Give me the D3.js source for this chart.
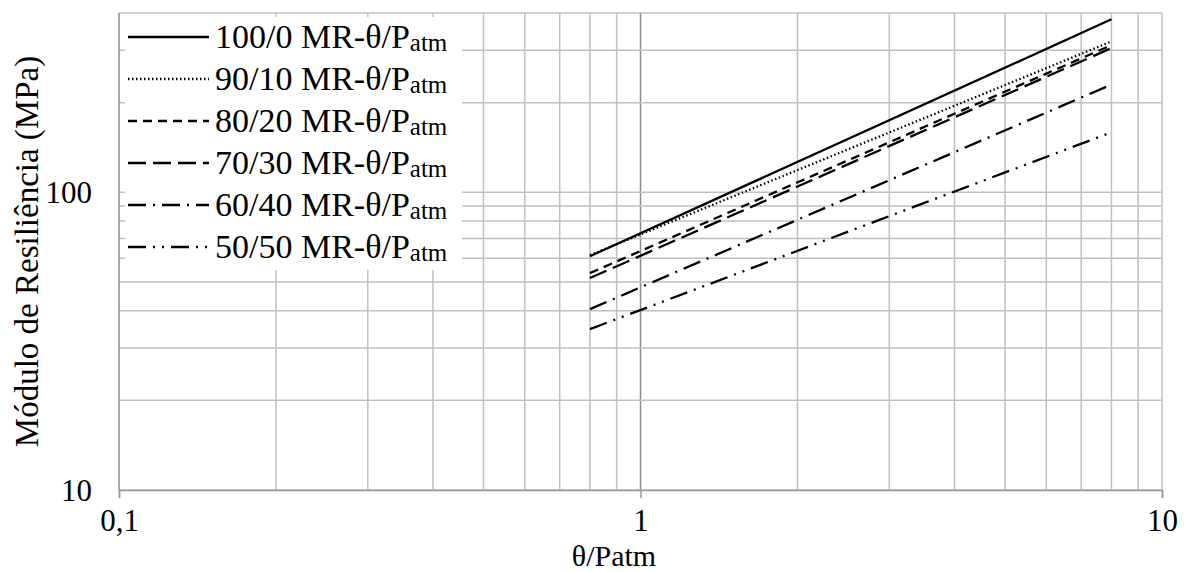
<!DOCTYPE html>
<html>
<head>
<meta charset="utf-8">
<script src="https://cdn.jsdelivr.net/npm/d3@7"></script>
<style>
  body { margin: 0; background: #fff; }
  text { font-family: "Liberation Serif", "Times New Roman", Times, serif; fill: #000; }
</style>
</head>
<body>
<div id="chart"></div>
<script>
// series: MR fitted vs theta/Patm, read at both ends of the fitted range
const seriesNames = ["100/0", "90/10", "80/20", "70/30", "60/40", "50/50"];
const thetaValues = [0.8, 8];
const mr100_0 = [61, 381];
const mr90_10 = [61.5, 321];
const mr80_20 = [53.5, 312];
const mr70_30 = [51.5, 305];
const mr60_40 = [40.5, 230];
const mr50_50 = [34.7, 159];

const xTickValues = [0.1, 1, 10];
const xTickLabels = ["0,1", "1", "10"];
const yTickValues = [10, 100];
const yTickLabels = ["10", "100"];

const seriesValues = [mr100_0, mr90_10, mr80_20, mr70_30, mr60_40, mr50_50];
const dashes = ["none", "1.5,2.5", "9,6", "18,7", "18,7,2,7", "18,7,2,7,2,7"];

let svg = d3.select("#chart").append("svg")
    .attr("width", 1189)
    .attr("height", 572),
    width = +svg.attr("width"),
    height = +svg.attr("height");

let margin = { top: 13, right: 27, bottom: 82, left: 119 };

let x = d3.scaleLog()
    .domain([0.1, 10])
    .range([margin.left, width - margin.right]);

let y = d3.scaleLog()
    .domain([10, 400])
    .range([height - margin.bottom, margin.top]);

// gridlines
let grid = svg.append("g");
grid.selectAll(".vg")
    .data(x.ticks())
    .enter().append("line")
    .attr("x1", d => x(d)).attr("x2", d => x(d))
    .attr("y1", margin.top).attr("y2", height - margin.bottom)
    .attr("stroke", d => d === 1 ? "#8a8a8a" : "#c0c0c0")
    .attr("stroke-width", 1.5);

grid.selectAll(".hg")
    .data(y.ticks())
    .enter().append("line")
    .attr("x1", margin.left).attr("x2", width - margin.right)
    .attr("y1", d => y(d)).attr("y2", d => y(d))
    .attr("stroke", "#c0c0c0")
    .attr("stroke-width", 1.5);

// legend background sits on top of the grid
let legend = svg.append("g");
legend.append("rect")
    .attr("x", 125).attr("y", 17)
    .attr("width", 337).attr("height", 253)
    .attr("fill", "#fff");

// series lines
let line = d3.line()
    .x((d, i) => x(thetaValues[i]))
    .y(d => y(d));

svg.append("g").selectAll("path")
    .data(seriesValues)
    .enter().append("path")
    .attr("d", d => line(d))
    .attr("fill", "none")
    .attr("stroke", "#000")
    .attr("stroke-width", 2.3)
    .attr("stroke-dasharray", (d, i) => dashes[i]);

// axes
let xAxis = d3.axisBottom(x)
    .tickValues(xTickValues)
    .tickSize(8)
    .tickFormat((d, i) => xTickLabels[i]);

let gX = svg.append("g")
    .attr("transform", "translate(0," + (height - margin.bottom) + ")")
    .attr("font-family", null)
    .call(xAxis);
gX.select(".domain").attr("stroke", "#999").attr("stroke-width", 1.5);
gX.selectAll(".tick line").attr("stroke", "#999").attr("stroke-width", 1.5);
gX.selectAll(".tick text")
    .attr("y", 41)
    .attr("dy", 0)
    .style("font-size", "31px");

svg.append("line")
    .attr("x1", margin.left).attr("x2", margin.left)
    .attr("y1", margin.top).attr("y2", height - margin.bottom)
    .attr("stroke", "#999").attr("stroke-width", 1.5);

svg.append("g").selectAll("text")
    .data(yTickValues)
    .enter().append("text")
    .attr("x", 92)
    .attr("y", d => y(d) + 11)
    .attr("text-anchor", "end")
    .style("font-size", "31px")
    .text((d, i) => yTickLabels[i]);

// axis titles
svg.append("text")
    .attr("x", 614)
    .attr("y", 566)
    .attr("text-anchor", "middle")
    .style("font-size", "30px")
    .text("θ/Patm");

svg.append("text")
    .attr("transform", "translate(38," + ((margin.top + height - margin.bottom) / 2) + ") rotate(-90)")
    .attr("text-anchor", "middle")
    .style("font-size", "33px")
    .text("Módulo de Resiliência (MPa)");

// legend entries
seriesNames.forEach((name, i) => {
    let cy = 37 + i * 42;
    legend.append("line")
        .attr("x1", 128).attr("x2", 209)
        .attr("y1", cy).attr("y2", cy)
        .attr("stroke", "#000")
        .attr("stroke-width", 2.3)
        .attr("stroke-dasharray", dashes[i]);
    let t = legend.append("text")
        .attr("x", 215)
        .attr("y", cy + 11)
        .style("font-size", "34px");
    t.append("tspan").text(name + " MR-θ/P");
    t.append("tspan").attr("dy", 3).style("font-size", "25px").text("atm");
});
</script>
</body>
</html>
